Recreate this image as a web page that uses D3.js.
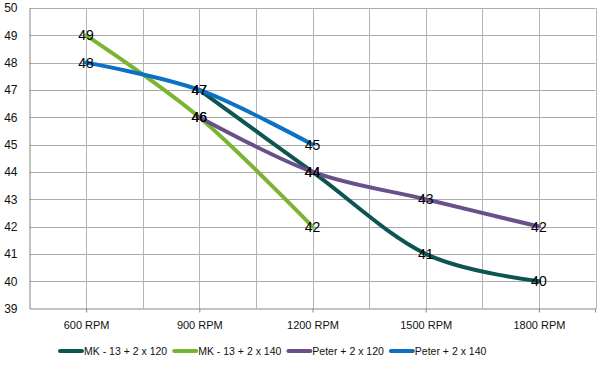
<!DOCTYPE html>
<html>
<head>
<meta charset="utf-8">
<script src="https://cdn.jsdelivr.net/npm/d3@7"></script>
<style>
  html, body { margin: 0; padding: 0; background: #fff; }
  svg { display: block; font-family: "Liberation Sans", Arial, sans-serif; }
</style>
</head>
<body>
<svg id="chart" width="599" height="365"></svg>
<script>
const categories = ["600 RPM", "900 RPM", "1200 RPM", "1500 RPM", "1800 RPM"];
const seriesNames = ["MK - 13 + 2 x 120", "MK - 13 + 2 x 140", "Peter + 2 x 120", "Peter + 2 x 140"];
const mk120 = [null, 47, 44, 41, 40];
const mk140 = [49, 46, 42, null, null];
const peter120 = [null, 46, 44, 43, 42];
const peter140 = [48, 47, 45, null, null];
const yTicks = [39, 40, 41, 42, 43, 44, 45, 46, 47, 48, 49, 50];
const colors = ["#0d5552", "#79b531", "#69508a", "#0b71c4"];

const seriesValues = [mk120, mk140, peter120, peter140];

const svg = d3.select("#chart");
const pLeft = 29.5, pRight = 595.5, pTop = 8, pBottom = 308.5;

const x = d3.scalePoint().domain(categories).range([pLeft, pRight]).padding(0.5);
const y = d3.scaleLinear().domain([39, 50]).range([pBottom, pTop]);
const step = x.step();

// horizontal gridlines
svg.append("g").selectAll("line").data(yTicks.filter(d => d !== 39)).join("line")
  .attr("x1", pLeft).attr("x2", pRight)
  .attr("y1", d => Math.round(y(d)) + 0.5).attr("y2", d => Math.round(y(d)) + 0.5)
  .attr("stroke", "#a9a9a9").attr("stroke-width", 1);

// vertical gridlines at category centers and boundaries
const vLines = [];
categories.forEach(c => { vLines.push(x(c)); vLines.push(x(c) + step / 2); });
svg.append("g").selectAll("line").data(vLines).join("line")
  .attr("x1", d => Math.round(d) + 0.5).attr("x2", d => Math.round(d) + 0.5)
  .attr("y1", pTop).attr("y2", pBottom)
  .attr("stroke", "#b5b5b5").attr("stroke-width", 1);

// y axis
const yAxis = d3.axisLeft(y).tickValues(yTicks).tickSize(0).tickPadding(12);
const gy = svg.append("g").attr("transform", `translate(${pLeft},0)`).call(yAxis);
gy.select(".domain").attr("stroke", "#868686");
gy.selectAll("text").attr("font-size", 12).attr("fill", "#111")
  .attr("font-family", "Liberation Sans, Arial, sans-serif");

// x axis
const xAxis = d3.axisBottom(x).tickSize(4).tickSizeOuter(0).tickPadding(9);
const gx = svg.append("g").attr("transform", `translate(0,${pBottom})`).call(xAxis);
gx.select(".domain").attr("stroke", "#868686");
gx.selectAll(".tick line").attr("stroke", "#868686");
gx.selectAll("text").attr("font-size", 11).attr("fill", "#111")
  .attr("font-family", "Liberation Sans, Arial, sans-serif");
gx.append("line").attr("x1", pRight).attr("x2", pRight).attr("y1", 0).attr("y2", 4).attr("stroke", "#868686");

// lines
const line = d3.line()
  .defined(d => d.v !== null)
  .x(d => x(d.c)).y(d => y(d.v))
  .curve(d3.curveCardinal.tension(0));

const data = seriesValues.map((vals, i) => ({
  name: seriesNames[i], color: colors[i],
  points: vals.map((v, j) => ({ c: categories[j], v }))
}));

svg.append("g").selectAll("path").data(data).join("path")
  .attr("d", d => line(d.points))
  .attr("fill", "none")
  .attr("stroke", d => d.color)
  .attr("stroke-width", 4)
  .attr("stroke-linecap", "round")
  .attr("stroke-linejoin", "round");

// data labels
const labels = [];
data.forEach(s => s.points.forEach(p => { if (p.v !== null) labels.push(p); }));
svg.append("g").selectAll("text").data(labels).join("text")
  .attr("x", d => x(d.c)).attr("y", d => y(d.v) + 5)
  .attr("text-anchor", "middle")
  .attr("font-size", 14).attr("fill", "#000")
  .text(d => d.v);

// legend
const lg = svg.append("g").attr("transform", "translate(0,351)");
let cx = 58;
data.forEach(s => {
  lg.append("line").attr("x1", cx + 2).attr("x2", cx + 24).attr("y1", 0).attr("y2", 0)
    .attr("stroke", s.color).attr("stroke-width", 4).attr("stroke-linecap", "round");
  const t = lg.append("text").attr("x", cx + 26).attr("y", 4)
    .attr("font-size", 10.5).attr("fill", "#111").text(s.name);
  cx += 26 + t.node().getComputedTextLength() + 5;
});
</script>
</body>
</html>
